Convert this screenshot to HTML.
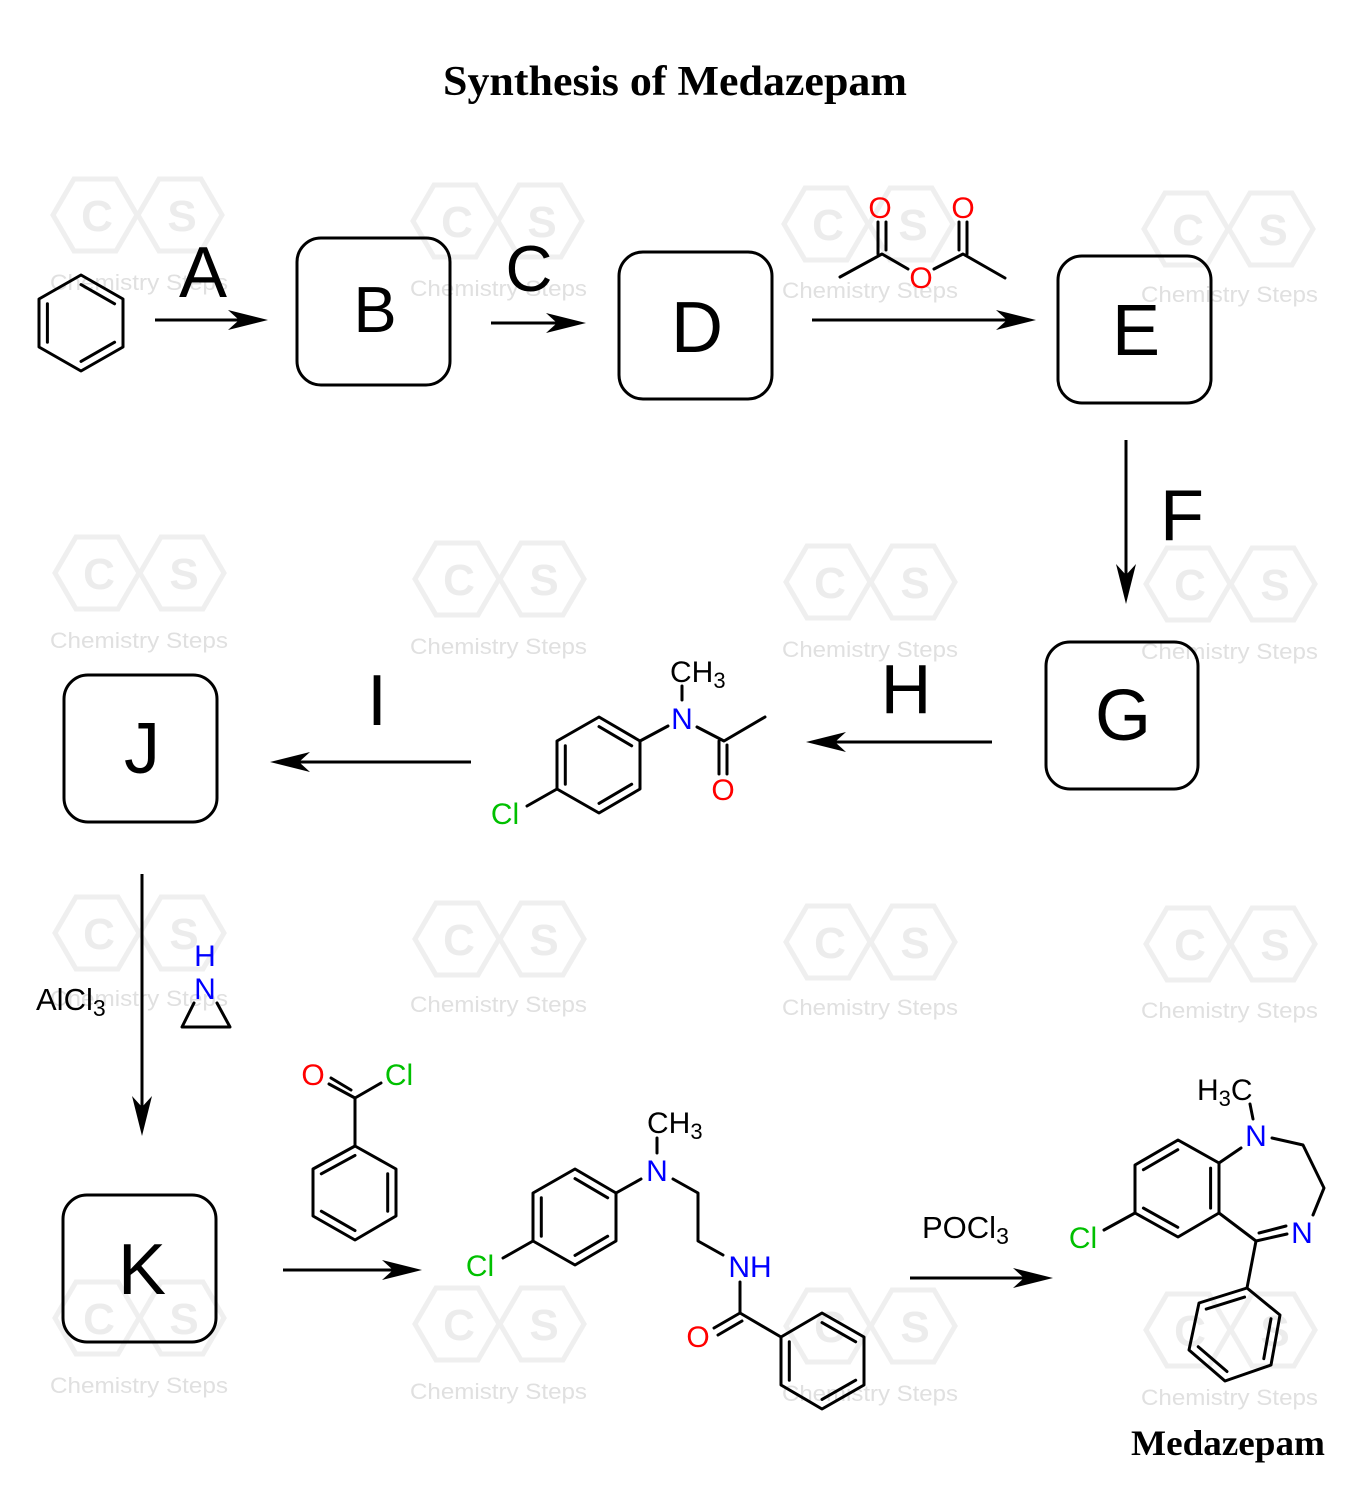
<!DOCTYPE html>
<html><head><meta charset="utf-8"><style>
html,body{margin:0;padding:0;background:#fff;}
svg{display:block;}
</style></head><body>
<svg width="1365" height="1493" viewBox="0 0 1365 1493" xmlns="http://www.w3.org/2000/svg">
<rect width="1365" height="1493" fill="#fff"/>

<!-- Box fills -->
<g fill="#fff" stroke="none">
<rect x="297" y="238" width="153" height="147" rx="24"/>
<rect x="619" y="252" width="153" height="147" rx="24"/>
<rect x="1058" y="256" width="153" height="147" rx="24"/>
<rect x="1046" y="642" width="152" height="147" rx="24"/>
<rect x="64" y="675" width="153" height="147" rx="24"/>
<rect x="63" y="1195" width="153" height="147" rx="24"/>
</g>

<!-- Watermarks -->
<g fill="none" stroke="#efefef" stroke-width="5">
<path d="M53,215 L74,179 L116,179 L137,215 L116,251 L74,251 Z M138,215 L159,179 L201,179 L222,215 L201,251 L159,251 Z" transform="translate(0,0)"/>
<path d="M53,215 L74,179 L116,179 L137,215 L116,251 L74,251 Z M138,215 L159,179 L201,179 L222,215 L201,251 L159,251 Z" transform="translate(360,6)"/>
<path d="M53,215 L74,179 L116,179 L137,215 L116,251 L74,251 Z M138,215 L159,179 L201,179 L222,215 L201,251 L159,251 Z" transform="translate(731,9)"/>
<path d="M53,215 L74,179 L116,179 L137,215 L116,251 L74,251 Z M138,215 L159,179 L201,179 L222,215 L201,251 L159,251 Z" transform="translate(1091,14)"/>
<path d="M53,215 L74,179 L116,179 L137,215 L116,251 L74,251 Z M138,215 L159,179 L201,179 L222,215 L201,251 L159,251 Z" transform="translate(2,358)"/>
<path d="M53,215 L74,179 L116,179 L137,215 L116,251 L74,251 Z M138,215 L159,179 L201,179 L222,215 L201,251 L159,251 Z" transform="translate(362,364)"/>
<path d="M53,215 L74,179 L116,179 L137,215 L116,251 L74,251 Z M138,215 L159,179 L201,179 L222,215 L201,251 L159,251 Z" transform="translate(733,367)"/>
<path d="M53,215 L74,179 L116,179 L137,215 L116,251 L74,251 Z M138,215 L159,179 L201,179 L222,215 L201,251 L159,251 Z" transform="translate(1093,369)"/>
<path d="M53,215 L74,179 L116,179 L137,215 L116,251 L74,251 Z M138,215 L159,179 L201,179 L222,215 L201,251 L159,251 Z" transform="translate(2,718)"/>
<path d="M53,215 L74,179 L116,179 L137,215 L116,251 L74,251 Z M138,215 L159,179 L201,179 L222,215 L201,251 L159,251 Z" transform="translate(362,724)"/>
<path d="M53,215 L74,179 L116,179 L137,215 L116,251 L74,251 Z M138,215 L159,179 L201,179 L222,215 L201,251 L159,251 Z" transform="translate(733,727)"/>
<path d="M53,215 L74,179 L116,179 L137,215 L116,251 L74,251 Z M138,215 L159,179 L201,179 L222,215 L201,251 L159,251 Z" transform="translate(1093,729)"/>
<path d="M53,215 L74,179 L116,179 L137,215 L116,251 L74,251 Z M138,215 L159,179 L201,179 L222,215 L201,251 L159,251 Z" transform="translate(2,1103)"/>
<path d="M53,215 L74,179 L116,179 L137,215 L116,251 L74,251 Z M138,215 L159,179 L201,179 L222,215 L201,251 L159,251 Z" transform="translate(362,1109)"/>
<path d="M53,215 L74,179 L116,179 L137,215 L116,251 L74,251 Z M138,215 L159,179 L201,179 L222,215 L201,251 L159,251 Z" transform="translate(733,1111)"/>
<path d="M53,215 L74,179 L116,179 L137,215 L116,251 L74,251 Z M138,215 L159,179 L201,179 L222,215 L201,251 L159,251 Z" transform="translate(1093,1115)"/>
</g>
<g font-family="Liberation Sans, sans-serif" font-weight="bold" font-size="44" fill="#ececec" text-anchor="middle">
<text x="97" y="231">C</text><text x="182" y="231">S</text>
<text x="457" y="237">C</text><text x="542" y="237">S</text>
<text x="828" y="240">C</text><text x="913" y="240">S</text>
<text x="1188" y="245">C</text><text x="1273" y="245">S</text>
<text x="99" y="589">C</text><text x="184" y="589">S</text>
<text x="459" y="595">C</text><text x="544" y="595">S</text>
<text x="830" y="598">C</text><text x="915" y="598">S</text>
<text x="1190" y="600">C</text><text x="1275" y="600">S</text>
<text x="99" y="949">C</text><text x="184" y="949">S</text>
<text x="459" y="955">C</text><text x="544" y="955">S</text>
<text x="830" y="958">C</text><text x="915" y="958">S</text>
<text x="1190" y="960">C</text><text x="1275" y="960">S</text>
<text x="99" y="1334">C</text><text x="184" y="1334">S</text>
<text x="459" y="1340">C</text><text x="544" y="1340">S</text>
<text x="830" y="1342">C</text><text x="915" y="1342">S</text>
<text x="1190" y="1346">C</text><text x="1275" y="1346">S</text>
</g>
<g font-family="Liberation Sans, sans-serif" font-size="22" fill="#e0e0e0">
<text x="50" y="290" textLength="178" lengthAdjust="spacingAndGlyphs">Chemistry Steps</text>
<text x="410" y="296" textLength="177" lengthAdjust="spacingAndGlyphs">Chemistry Steps</text>
<text x="782" y="298" textLength="176" lengthAdjust="spacingAndGlyphs">Chemistry Steps</text>
<text x="1141" y="302" textLength="177" lengthAdjust="spacingAndGlyphs">Chemistry Steps</text>
<text x="50" y="648" textLength="178" lengthAdjust="spacingAndGlyphs">Chemistry Steps</text>
<text x="410" y="654" textLength="177" lengthAdjust="spacingAndGlyphs">Chemistry Steps</text>
<text x="782" y="657" textLength="176" lengthAdjust="spacingAndGlyphs">Chemistry Steps</text>
<text x="1141" y="659" textLength="177" lengthAdjust="spacingAndGlyphs">Chemistry Steps</text>
<text x="50" y="1006" textLength="178" lengthAdjust="spacingAndGlyphs">Chemistry Steps</text>
<text x="410" y="1012" textLength="177" lengthAdjust="spacingAndGlyphs">Chemistry Steps</text>
<text x="782" y="1015" textLength="176" lengthAdjust="spacingAndGlyphs">Chemistry Steps</text>
<text x="1141" y="1018" textLength="177" lengthAdjust="spacingAndGlyphs">Chemistry Steps</text>
<text x="50" y="1393" textLength="178" lengthAdjust="spacingAndGlyphs">Chemistry Steps</text>
<text x="410" y="1399" textLength="177" lengthAdjust="spacingAndGlyphs">Chemistry Steps</text>
<text x="782" y="1401" textLength="176" lengthAdjust="spacingAndGlyphs">Chemistry Steps</text>
<text x="1141" y="1405" textLength="177" lengthAdjust="spacingAndGlyphs">Chemistry Steps</text>
</g>

<!-- Box outlines (on top of watermark) -->
<g fill="none" stroke="#000" stroke-width="3">
<rect x="297" y="238" width="153" height="147" rx="24"/>
<rect x="619" y="252" width="153" height="147" rx="24"/>
<rect x="1058" y="256" width="153" height="147" rx="24"/>
<rect x="1046" y="642" width="152" height="147" rx="24"/>
<rect x="64" y="675" width="153" height="147" rx="24"/>
<rect x="63" y="1195" width="153" height="147" rx="24"/>
</g>

<!-- Title -->
<text x="443" y="95" font-family="Liberation Serif, serif" font-weight="bold" font-size="42" textLength="464" lengthAdjust="spacingAndGlyphs" fill="#000">Synthesis of Medazepam</text>
<text x="1131" y="1455" font-family="Liberation Serif, serif" font-weight="bold" font-size="36" textLength="194" lengthAdjust="spacingAndGlyphs" fill="#000">Medazepam</text>

<g font-family="Liberation Sans, sans-serif" fill="#000" text-anchor="middle">
<text x="375" y="332" font-size="65">B</text>
<text x="697" y="352" font-size="72">D</text>
<text x="1136" y="355" font-size="72">E</text>
<text x="1123" y="740" font-size="72">G</text>
<text x="142" y="773" font-size="72">J</text>
<text x="142" y="1294" font-size="72">K</text>
<text x="203" y="297" font-size="72">A</text>
<text x="529" y="291" font-size="65">C</text>
<text x="1182" y="540" font-size="72">F</text>
<text x="906" y="713" font-size="70">H</text>
<text x="377" y="725" font-size="72">I</text>
</g>

<!-- Arrows -->
<g stroke="#000" stroke-width="3" fill="none">
<line x1="155" y1="320" x2="242" y2="320"/>
<line x1="491" y1="323" x2="560" y2="323"/>
<line x1="812" y1="320" x2="1010" y2="320"/>
<line x1="1126" y1="440" x2="1126" y2="578"/>
<line x1="992" y1="742" x2="832" y2="742"/>
<line x1="471" y1="762" x2="296" y2="762"/>
<line x1="142" y1="874" x2="142" y2="1110"/>
<line x1="283" y1="1270" x2="396" y2="1270"/>
<line x1="910" y1="1278" x2="1027" y2="1278"/>
</g>
<g fill="#000">
<path d="M268,320 L228,310 L239,320 L228,330 Z"/>
<path d="M586,323 L546,313 L557,323 L546,333 Z"/>
<path d="M1036,320 L996,310 L1007,320 L996,330 Z"/>
<path d="M1126,604 L1116,564 L1126,575 L1136,564 Z"/>
<path d="M806,742 L846,732 L835,742 L846,752 Z"/>
<path d="M270,762 L310,752 L299,762 L310,772 Z"/>
<path d="M142,1136 L132,1096 L142,1107 L152,1096 Z"/>
<path d="M422,1270 L382,1260 L393,1270 L382,1280 Z"/>
<path d="M1053,1278 L1013,1268 L1024,1278 L1013,1288 Z"/>
</g>

<!-- Bonds -->
<g stroke="#000" stroke-width="3" fill="none" stroke-linecap="round" stroke-linejoin="round">
<path d="M81,275 L123,299 L123,347 L81,371 L39,347 L39,299 Z"/>
<line x1="47.4" y1="303.8" x2="47.4" y2="342.2"/>
<line x1="81" y1="284.6" x2="114.6" y2="303.8"/>
<line x1="114.6" y1="342.2" x2="81" y2="361.4"/>

<polyline points="840,277 882,254 908,269"/>
<polyline points="934,269 963,254 1005,278"/>
<line x1="878" y1="222" x2="878" y2="254"/>
<line x1="886" y1="222" x2="886" y2="250"/>
<line x1="959" y1="222" x2="959" y2="250"/>
<line x1="967" y1="222" x2="967" y2="254"/>

<path d="M599,717 L640,741 L640,789 L599,813 L557,789 L557,741 Z"/>
<line x1="599" y1="726.6" x2="631.7" y2="745.8"/>
<line x1="565.3" y1="745.8" x2="565.3" y2="784.2"/>
<line x1="631.7" y1="784.2" x2="599" y2="803.4"/>
<line x1="557" y1="789" x2="527" y2="806"/>
<line x1="640" y1="741" x2="668" y2="726"/>
<line x1="682" y1="686" x2="682" y2="700"/>
<polyline points="697,727 724,741 765,717"/>
<line x1="719" y1="741" x2="719" y2="774"/>
<line x1="727" y1="745" x2="727" y2="774"/>

<path d="M355,1146 L396,1169 L396,1216 L355,1240 L313,1216 L313,1169 Z"/>
<line x1="355" y1="1155.4" x2="321.3" y2="1173.8"/>
<line x1="387.7" y1="1173.8" x2="387.7" y2="1211.2"/>
<line x1="355" y1="1230.6" x2="321.3" y2="1211.2"/>
<line x1="355" y1="1146" x2="355" y2="1098"/>
<line x1="355" y1="1098" x2="381" y2="1083"/>
<line x1="355" y1="1098" x2="329" y2="1084"/>
<line x1="351" y1="1090" x2="331" y2="1078"/>

<polyline points="194,1003 182,1027 230,1027 217,1003"/>

<path d="M575,1169 L616,1193 L616,1241 L575,1265 L533,1241 L533,1193 Z"/>
<line x1="575" y1="1178.6" x2="607.7" y2="1197.8"/>
<line x1="541.3" y1="1197.8" x2="541.3" y2="1236.2"/>
<line x1="607.7" y1="1236.2" x2="575" y2="1255.4"/>
<line x1="533" y1="1241" x2="503" y2="1258"/>
<line x1="616" y1="1193" x2="641" y2="1179"/>
<line x1="657" y1="1138" x2="657" y2="1153"/>
<polyline points="673,1179 698,1193 698,1241 723,1255"/>
<line x1="740" y1="1282" x2="740" y2="1313"/>
<line x1="740" y1="1313" x2="781" y2="1337"/>
<line x1="740" y1="1313" x2="714" y2="1328"/>
<line x1="742" y1="1321" x2="718" y2="1335"/>
<path d="M781,1337 L822,1313 L864,1337 L864,1385 L822,1409 L781,1385 Z"/>
<line x1="789.3" y1="1341.8" x2="789.3" y2="1380.2"/>
<line x1="822" y1="1322.6" x2="855.7" y2="1341.8"/>
<line x1="855.7" y1="1380.2" x2="822" y2="1399.4"/>

<path d="M1178,1140 L1219,1163 L1219,1213 L1178,1237 L1135,1213 L1135,1165 Z"/>
<line x1="1143.4" y1="1169.7" x2="1177.8" y2="1149.7"/>
<line x1="1210.6" y1="1168.1" x2="1210.6" y2="1208.1"/>
<line x1="1177.8" y1="1227.3" x2="1143.4" y2="1208.1"/>
<line x1="1135" y1="1213" x2="1104" y2="1230"/>
<line x1="1250" y1="1104" x2="1253" y2="1119"/>
<line x1="1219" y1="1163" x2="1241" y2="1148"/>
<polyline points="1272,1138 1303,1145 1324,1188 1313,1215"/>
<line x1="1219" y1="1213" x2="1256" y2="1241"/>
<line x1="1256" y1="1241" x2="1287" y2="1234"/>
<line x1="1259" y1="1233" x2="1286" y2="1226"/>
<line x1="1256" y1="1241" x2="1247" y2="1288"/>
<path d="M1247,1288 L1280,1315 L1271,1365 L1225,1381 L1189,1350 L1199,1303 Z"/>
<line x1="1244.6" y1="1297.1" x2="1206.2" y2="1309.1"/>
<line x1="1271" y1="1318.7" x2="1263.8" y2="1358.7"/>
<line x1="1227" y1="1371.5" x2="1198.2" y2="1346.7"/>
</g>

<g font-family="Liberation Sans, sans-serif" font-size="30" text-anchor="middle">
<text x="880" y="218" fill="#ff0000">O</text>
<text x="921" y="288" fill="#ff0000">O</text>
<text x="963" y="218" fill="#ff0000">O</text>
<text x="682" y="729" fill="#0000ff">N</text>
<text x="723" y="800" fill="#ff0000">O</text>
<text x="505" y="824" fill="#00c000">Cl</text>
<text x="313" y="1085" fill="#ff0000">O</text>
<text x="399" y="1085" fill="#00c000">Cl</text>
<text x="205" y="966" fill="#0000ff">H</text>
<text x="205" y="999" fill="#0000ff">N</text>
<text x="657" y="1181" fill="#0000ff">N</text>
<text x="750" y="1277" fill="#0000ff">NH</text>
<text x="698" y="1347" fill="#ff0000">O</text>
<text x="480" y="1276" fill="#00c000">Cl</text>
<text x="1256" y="1146" fill="#0000ff">N</text>
<text x="1302" y="1243" fill="#0000ff">N</text>
<text x="1083" y="1248" fill="#00c000">Cl</text>
</g>
<g font-family="Liberation Sans, sans-serif" font-size="30" fill="#000">
<text x="670" y="682">CH<tspan font-size="22" dy="6">3</tspan></text>
<text x="647" y="1133">CH<tspan font-size="22" dy="6">3</tspan></text>
<text x="1197" y="1100">H<tspan font-size="22" dy="6">3</tspan><tspan dy="-6">C</tspan></text>
<text x="36" y="1010" font-size="31">AlCl<tspan font-size="23" dy="6">3</tspan></text>
<text x="922" y="1238" font-size="31">POCl<tspan font-size="23" dy="6">3</tspan></text>
</g>
</svg>
</body></html>
